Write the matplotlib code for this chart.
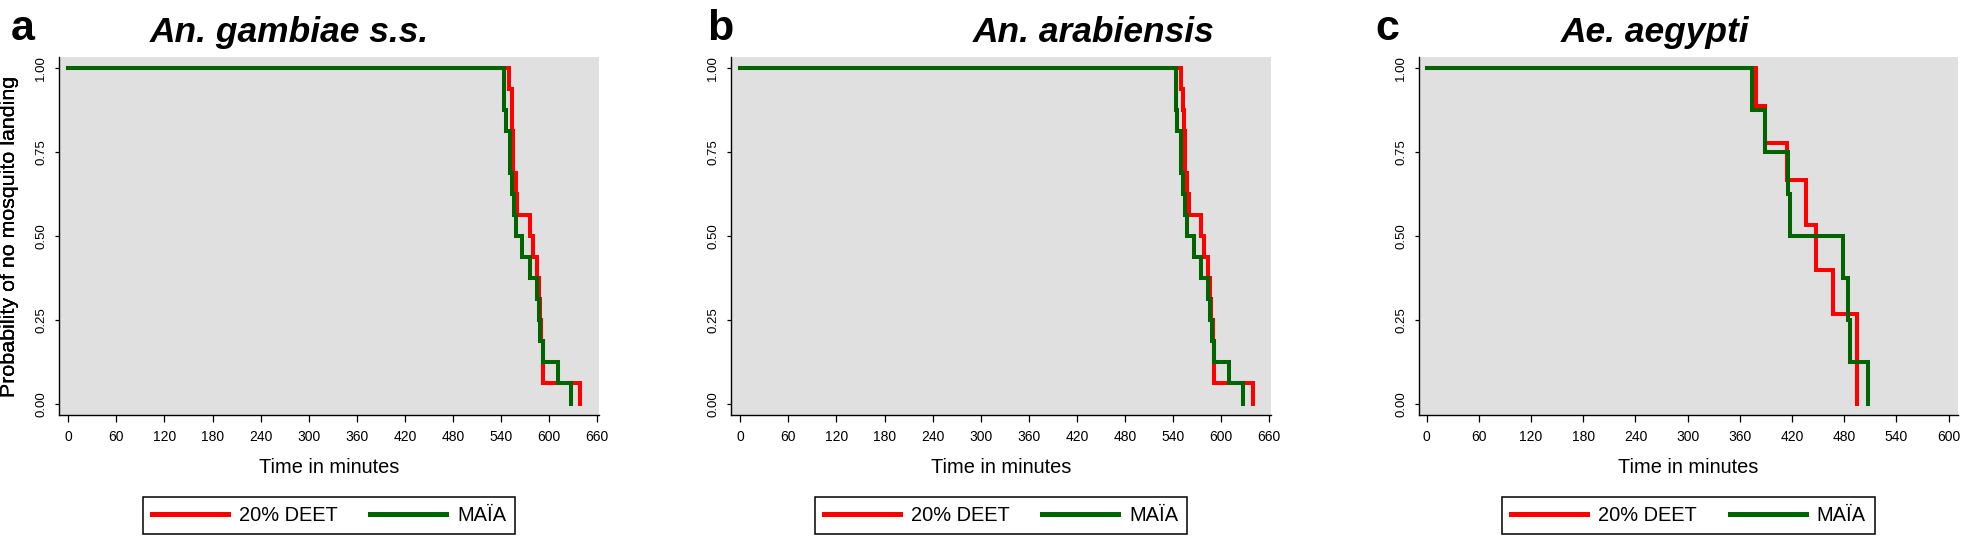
import matplotlib
matplotlib.use('Agg')
import matplotlib.pyplot as plt

plt.rcParams['font.family'] = ['Liberation Sans', 'DejaVu Sans']

# survival curves (time in minutes, probability)
a_deet_t = [0, 550, 553, 553.5, 555, 558, 560, 576, 580, 585, 587, 588, 590, 592, 639]
a_deet_s = [1, 0.9375, 0.875, 0.8125, 0.6875, 0.625, 0.5625, 0.5, 0.4375, 0.375, 0.3125, 0.25, 0.1875, 0.0625, 0]
a_maia_t = [0, 544, 546, 551, 553, 556, 558, 566, 576, 585, 587, 589, 592.5, 611, 627]
a_maia_s = [1, 0.875, 0.8125, 0.6875, 0.625, 0.5625, 0.5, 0.4375, 0.375, 0.3125, 0.25, 0.1875, 0.125, 0.0625, 0]

b_deet_t = [0, 549.6, 552.5, 553.3, 555, 557, 559.2, 574.6, 578.8, 583.8, 585.8, 587.1, 589.2, 591.3, 639.2]
b_deet_s = [1, 0.9375, 0.875, 0.8125, 0.6875, 0.625, 0.5625, 0.5, 0.4375, 0.375, 0.3125, 0.25, 0.1875, 0.0625, 0]
b_maia_t = [0, 543.8, 545.4, 550.4, 552.9, 555, 557.9, 566.3, 574.6, 583.8, 586.3, 588.3, 591.3, 610, 626.7]
b_maia_s = [1, 0.875, 0.8125, 0.6875, 0.625, 0.5625, 0.5, 0.4375, 0.375, 0.3125, 0.25, 0.1875, 0.125, 0.0625, 0]

c_deet_t = [0, 378, 389, 414, 436, 448, 467, 495]
c_deet_s = [1, 0.8889, 0.7778, 0.6667, 0.5333, 0.4, 0.2667, 0]
c_maia_t = [0, 374, 389, 415, 418, 478, 484, 486, 507]
c_maia_s = [1, 0.875, 0.75, 0.625, 0.5, 0.375, 0.25, 0.125, 0]

letters = ['a', 'b', 'c']
titles = ['An. gambiae s.s.', 'An. arabiensis', 'Ae. aegypti']
series_names = ['20% DEET', 'MAÏA']
yticks = [0, 0.25, 0.5, 0.75, 1]
ytick_labels = ['0.00', '0.25', '0.50', '0.75', '1.00']
xticks_ab = list(range(0, 661, 60))
xticks_c = list(range(0, 601, 60))

W, H = 1961, 537
fig = plt.figure(figsize=(W / 100, H / 100), dpi=100)

red = '#ff0000'
green = '#006400'
bg = '#e0e0e0'

panels = [
    (58.7, 540.6, (-12, 662.5), xticks_ab, a_deet_t, a_deet_s, a_maia_t, a_maia_s),
    (730.7, 540.6, (-12, 662.5), xticks_ab, b_deet_t, b_deet_s, b_maia_t, b_maia_s),
    (1418.7, 539.3, (-9.2, 610.7), xticks_c, c_deet_t, c_deet_s, c_maia_t, c_maia_s),
]
top_px, bot_px = 57.3, 415
h_px = bot_px - top_px

letter_x = [10.5, 706.7, 1375]
title_cx = [289, 1094, 1655]

for i, (left, width, xlim, xt, dt, ds, mt, ms) in enumerate(panels):
    ax = fig.add_axes([left / W, (H - bot_px) / H, width / W, h_px / H])
    ax.set_facecolor(bg)
    ax.step(dt, ds, where='post', color=red, lw=2.9, label=series_names[0], solid_joinstyle='miter')
    ax.step(mt, ms, where='post', color=green, lw=2.9, label=series_names[1], solid_joinstyle='miter')
    ax.set_xlim(*xlim)
    ax.set_ylim(-0.0337, 1.0328)
    ax.set_xticks(xt)
    ax.set_yticks(yticks)
    ax.set_yticklabels(ytick_labels, rotation=90, va='center')
    ax.tick_params(axis='x', direction='out', length=4.7, width=0.9, pad=6, labelsize=10)
    ax.tick_params(axis='y', direction='out', length=3.1, width=0.9, pad=5, labelsize=9.5)
    for s in ['top', 'right']:
        ax.spines[s].set_visible(False)
    for s in ['left', 'bottom']:
        ax.spines[s].set_linewidth(1.0)
    ax.set_xlabel('Time in minutes', fontsize=14.4, va='baseline')
    ax.xaxis.set_label_coords(0.5, -(473.3 - bot_px) / h_px)
    ax.set_ylabel('Probability of no mosquito landing', fontsize=15.4, va='center')
    ax.yaxis.set_label_coords((9.5 - left) / width, 0.5)
    leg = ax.legend(loc='center', bbox_to_anchor=(0.5, -(515.5 - bot_px) / h_px),
                    ncol=2, fontsize=14.4, handlelength=3.8, handletextpad=0.55,
                    columnspacing=1.65, borderpad=0.45, fancybox=False, framealpha=1,
                    edgecolor='black')
    leg.get_frame().set_linewidth(1.1)
    for line in leg.get_lines():
        line.set_linewidth(3.6)

    fig.text(letter_x[i] / W, (H - 40) / H, letters[i], fontsize=31, fontweight='bold',
             ha='left', va='baseline')
    fig.text(title_cx[i] / W, (H - 42) / H, titles[i], fontsize=25.5, fontweight='bold',
             fontstyle='italic', ha='center', va='baseline')

fig.savefig('out.png', dpi=100)
